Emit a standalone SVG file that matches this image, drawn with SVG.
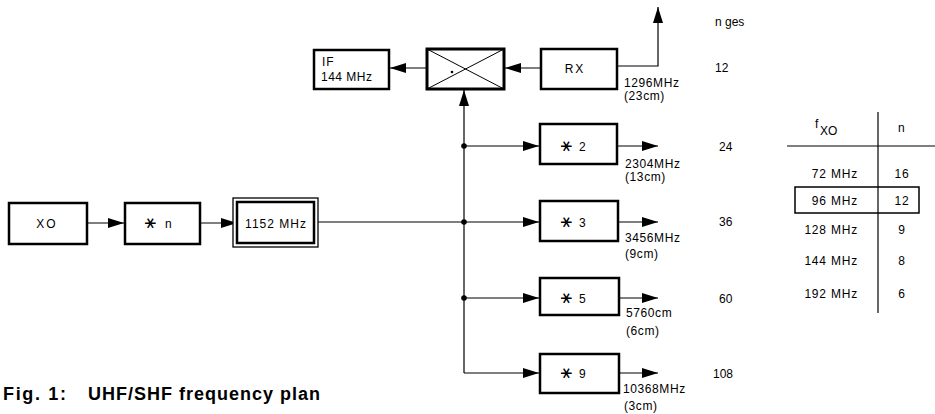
<svg xmlns="http://www.w3.org/2000/svg" width="935" height="414" viewBox="0 0 935 414">
<style>
.box{fill:#fff;stroke:#000;stroke-width:2.5}
.ln{fill:none;stroke:#000;stroke-width:1.2}
.t{font-family:"Liberation Sans","DejaVu Sans",sans-serif;font-size:12px;fill:#000}
.s{font-family:"Liberation Sans","DejaVu Sans",sans-serif;font-size:12px;fill:#000;letter-spacing:0.6px}
.m{font-family:"DejaVu Sans",sans-serif;font-size:17px;fill:#000;text-anchor:middle;dominant-baseline:central}
.c{text-anchor:middle}
.cap{font-family:"Liberation Sans",Arial,sans-serif;font-size:18px;font-weight:bold;fill:#000}
</style>
<defs>
<marker id="ah" markerWidth="16" markerHeight="10" refX="16" refY="5" orient="auto" markerUnits="userSpaceOnUse">
<path d="M0,0 L16,5 L0,10 Z" fill="#000"/>
</marker>
</defs>
<rect width="935" height="414" fill="#fff"/>

<g id="connectors">
<line class="ln" x1="87" y1="223" x2="124" y2="223" marker-end="url(#ah)"/>
<line class="ln" x1="200" y1="223" x2="237" y2="223" marker-end="url(#ah)"/>
<line class="ln" x1="318" y1="222" x2="464" y2="222"/>
<path class="ln" d="M464,373 L464,90" marker-end="url(#ah)"/>
<line class="ln" x1="464" y1="146" x2="539" y2="146" marker-end="url(#ah)"/>
<line class="ln" x1="464" y1="222" x2="539" y2="222" marker-end="url(#ah)"/>
<line class="ln" x1="464" y1="298" x2="539" y2="298" marker-end="url(#ah)"/>
<line class="ln" x1="464" y1="373" x2="539" y2="373" marker-end="url(#ah)"/>
<line class="ln" x1="618" y1="146" x2="658" y2="146" marker-end="url(#ah)"/>
<line class="ln" x1="618" y1="222" x2="658" y2="222" marker-end="url(#ah)"/>
<line class="ln" x1="619" y1="298" x2="658" y2="298" marker-end="url(#ah)"/>
<line class="ln" x1="619" y1="373" x2="658" y2="373" marker-end="url(#ah)"/>
<line class="ln" x1="541" y1="68" x2="505" y2="68" marker-end="url(#ah)"/>
<line class="ln" x1="427" y1="68" x2="390" y2="68" marker-end="url(#ah)"/>
<path class="ln" d="M617,66 L658,66 L658,7" marker-end="url(#ah)"/>
<circle cx="464" cy="146" r="2.8" fill="#000"/>
<circle cx="464" cy="222" r="2.8" fill="#000"/>
<circle cx="464" cy="298" r="2.8" fill="#000"/>
</g>

<g id="xo">
<rect class="box" x="9" y="203" width="78" height="41"/>
<text class="t c" x="47" y="228" font-size="13" letter-spacing="2">XO</text>
</g>
<g id="mult-n">
<rect class="box" x="125" y="203" width="75" height="41"/>
<text class="m" transform="translate(151,223) rotate(90)">∗</text>
<text class="t" x="165" y="228" font-size="13">n</text>
</g>
<g id="f1152">
<rect x="233" y="198" width="85" height="49" fill="#fff" stroke="#000" stroke-width="1.3"/>
<rect class="box" x="237" y="202" width="77" height="41"/>
<text class="t c" x="276" y="228" font-size="13" letter-spacing="1">1152 MHz</text>
</g>
<g id="if">
<rect class="box" x="314" y="50" width="75" height="39"/>
<text class="t" x="322" y="66" font-size="13" letter-spacing="1">IF</text>
<text class="t" x="321" y="81" font-size="12.5" letter-spacing="0.5">144 MHz</text>
</g>
<g id="mixer">
<rect x="427" y="49" width="77" height="40" fill="#fff" stroke="#000" stroke-width="3"/>
<path d="M427,49 L504,89 M427,89 L504,49" stroke="#000" stroke-width="1"/>
<circle cx="452" cy="72" r="1.3" fill="#000"/>
</g>
<g id="rx">
<rect class="box" x="541" y="49" width="76" height="40"/>
<text class="t c" x="575" y="73" font-size="13" letter-spacing="2">RX</text>
</g>
<g id="x2">
<rect class="box" x="540" y="124" width="77" height="40"/>
<text class="m" transform="translate(567,146) rotate(90)">∗</text>
<text class="t" x="579" y="151" font-size="13">2</text>
</g>
<g id="x3">
<rect class="box" x="540" y="201" width="78" height="40"/>
<text class="m" transform="translate(567,222) rotate(90)">∗</text>
<text class="t" x="579" y="227" font-size="13">3</text>
</g>
<g id="x5">
<rect class="box" x="540" y="278" width="79" height="37"/>
<text class="m" transform="translate(567,298) rotate(90)">∗</text>
<text class="t" x="579" y="303" font-size="13">5</text>
</g>
<g id="x9">
<rect class="box" x="540" y="354" width="79" height="39"/>
<text class="m" transform="translate(567,373) rotate(90)">∗</text>
<text class="t" x="579" y="378" font-size="13">9</text>
</g>

<g id="labels">
<text class="s" x="624" y="87">1296MHz</text>
<text class="s" x="624" y="100">(23cm)</text>
<text class="s" x="625" y="168">2304MHz</text>
<text class="s" x="625" y="181">(13cm)</text>
<text class="s" x="625" y="242">3456MHz</text>
<text class="s" x="625" y="258">(9cm)</text>
<text class="s" x="626" y="317">5760cm</text>
<text class="s" x="626" y="335">(6cm)</text>
<text class="s" x="623" y="393">10368MHz</text>
<text class="s" x="624" y="410">(3cm)</text>
<text class="t" x="715" y="26">n ges</text>
<text class="t" x="715" y="72">12</text>
<text class="t" x="719" y="151">24</text>
<text class="t" x="719" y="226">36</text>
<text class="t" x="719" y="303">60</text>
<text class="t" x="713" y="378">108</text>
</g>

<g id="table">
<line class="ln" x1="878" y1="112" x2="878" y2="313"/>
<line class="ln" x1="787" y1="146" x2="935" y2="146"/>
<text class="t" x="815" y="128" font-size="9">f</text>
<text class="t" x="820" y="135" font-size="13">XO</text>
<text class="t" x="898" y="132">n</text>
<rect x="795" y="187" width="124" height="26" fill="none" stroke="#000" stroke-width="1.5"/>
<g class="t" font-size="12" letter-spacing="0.8">
<text x="858" y="178" text-anchor="end">72 MHz</text>
<text x="902" y="178" text-anchor="middle">16</text>
<text x="858" y="205" text-anchor="end">96 MHz</text>
<text x="902" y="205" text-anchor="middle">12</text>
<text x="858" y="234" text-anchor="end">128 MHz</text>
<text x="902" y="234" text-anchor="middle">9</text>
<text x="858" y="265" text-anchor="end">144 MHz</text>
<text x="902" y="265" text-anchor="middle">8</text>
<text x="858" y="298" text-anchor="end">192 MHz</text>
<text x="902" y="298" text-anchor="middle">6</text>
</g>
</g>

<g id="caption">
<text class="cap" x="3" y="400" textLength="63" lengthAdjust="spacing">Fig. 1:</text>
<text class="cap" x="88" y="400" textLength="232" lengthAdjust="spacing">UHF/SHF frequency plan</text>
</g>
</svg>
